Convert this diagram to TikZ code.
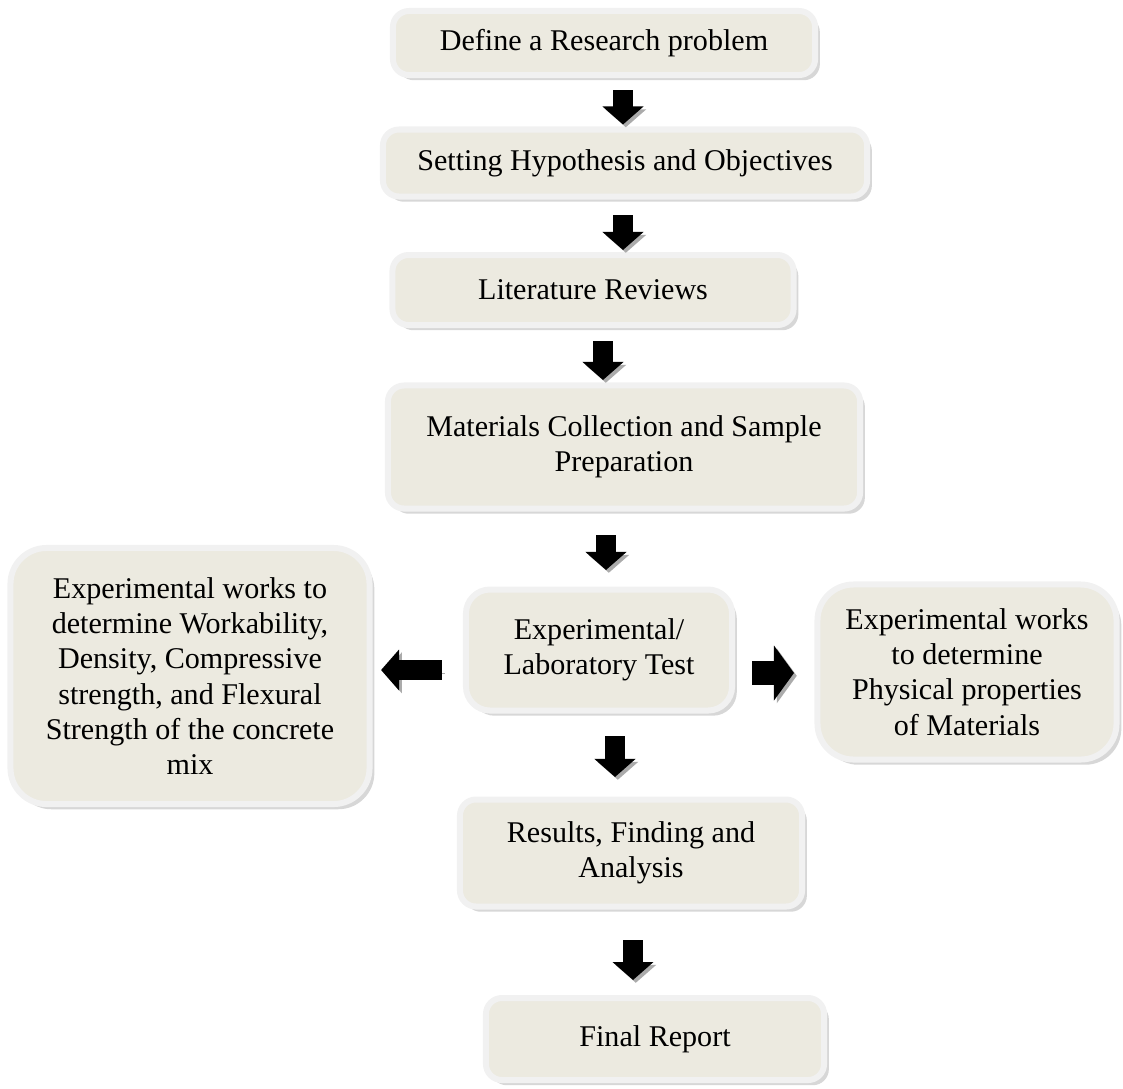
\documentclass[tikz,border=0pt]{standalone}
\usepackage{fontspec}
\setmainfont{Liberation Serif}
\usepackage{tikz}
\usetikzlibrary{shapes}
\usetikzlibrary{arrows.meta}
\usetikzlibrary{calc}
\usetikzlibrary{shadows}
\definecolor{stepfill}{HTML}{ECEAE0}
\definecolor{steprim}{HTML}{F1F1F1}
\definecolor{stepshade}{HTML}{B0B0B0}
\definecolor{arrowshade}{HTML}{ABABAB}

\begin{document}
\begin{tikzpicture}[x=0.025cm, y=-0.025cm,
    stepbox/.style={rectangle, rounded corners=0.4cm, fill=stepfill, draw=steprim,
        line width=0.15cm, align=center, inner sep=0pt,
        font=\fontsize{21.4}{25}\selectfont,
        drop shadow={shadow xshift=0.12cm, shadow yshift=-0.13cm, fill=stepshade, draw=none}},
    sidebox/.style={stepbox, rounded corners=0.9cm},
    blk/.style={line width=0.5cm, -{Triangle[width=1cm,length=0.45cm]},
        preaction={draw=arrowshade, transform canvas={xshift=0.07cm, yshift=-0.07cm}}}]

        \useasboundingbox (0,0) rectangle (1123,1088);

        % Main column
        \node[stepbox, minimum width=10.55cm, minimum height=1.6cm] (define) at (604,43)
            {Define a Research problem};
        \node[stepbox, minimum width=12.1cm, minimum height=1.675cm] (hypo) at (625,163)
            {Setting Hypothesis and Objectives};
        \node[stepbox, minimum width=10.025cm, minimum height=1.75cm] (review) at (593,290)
            {Literature Reviews};
        \node[stepbox, minimum width=11.8cm, minimum height=3.075cm] (collect) at (624,447)
            {Materials Collection and Sample\\Preparation};
        \node[stepbox, rounded corners=0.6cm, minimum width=6.65cm, minimum height=3.025cm] (labtest) at (599,650)
            {Experimental/\\Laboratory Test};
        \node[stepbox, minimum width=8.55cm, minimum height=2.675cm] (results) at (631,853)
            {Results, Finding and\\Analysis};
        \node[stepbox, minimum width=8.45cm, minimum height=2.05cm] (report) at (655,1039)
            {Final Report};

        % Side boxes
        \node[sidebox, minimum width=8.975cm, minimum height=6.4cm] (mixtest) at (190,676)
            {Experimental works to\\determine Workability,\\Density, Compressive\\strength, and Flexural\\Strength of the concrete\\mix};
        \node[sidebox, minimum width=7.475cm, minimum height=4.375cm] (phystest) at (967,672)
            {Experimental works\\to determine\\Physical properties\\of Materials};

        % Arrows
        \draw[blk] ($(define.south)+(19,12)$) -- ($(hypo.north)+(-2,-2)$);
        \draw[blk] ($(hypo.south)+(-2,15.5)$) -- ($(review.north)+(30,-2)$);
        \draw[blk] ($(review.south)+(10,13)$) -- ($(collect.north)+(-21,-2.5)$);
        \draw[blk] ($(collect.south)+(-18,23.5)$) -- ($(labtest.north)+(7,-16.5)$);
        \draw[blk] ($(labtest.south)+(16,22.5)$) -- ($(results.north)+(-16,-19.5)$);
        \draw[blk] ($(results.south)+(2,30.5)$) -- ($(report.north)+(-22,-15)$);

        % Side arrows
        \draw[blk] ($(labtest.west)+(-21,20)$) -- ($(mixtest.east)+(8.5,-6)$);
        \draw[blk, line width=0.58cm, -{Triangle[width=1.35cm,length=0.5cm]}]
            ($(labtest.east)+(17,23)$) -- ($(phystest.west)+(-20.5,1)$);

\end{tikzpicture}
\end{document}
